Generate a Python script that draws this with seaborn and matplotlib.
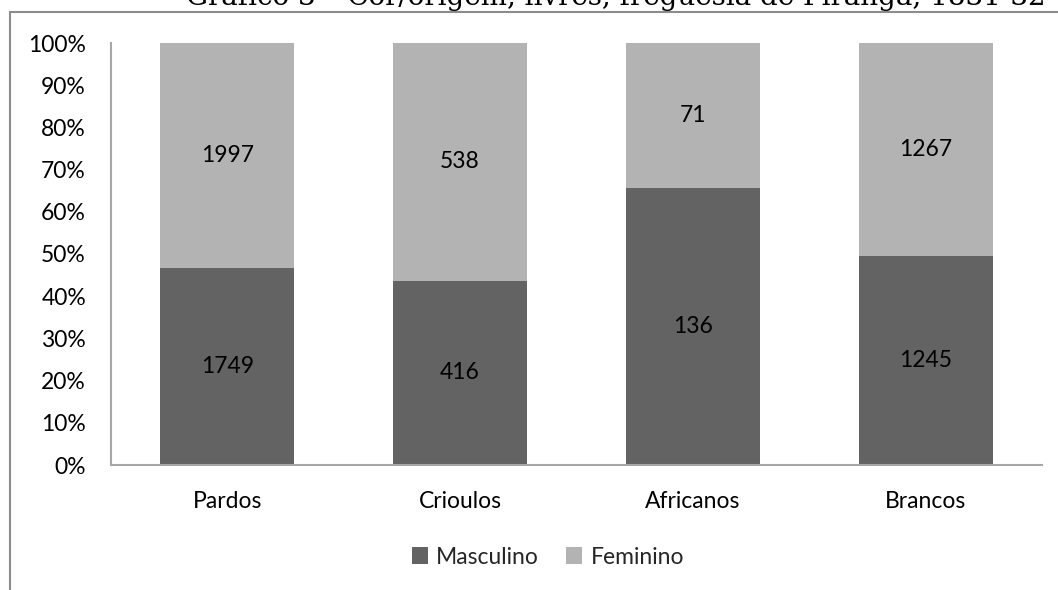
import matplotlib
matplotlib.use("Agg")
import matplotlib.pyplot as plt
from matplotlib.lines import Line2D
from matplotlib.patches import Patch
from matplotlib.ticker import PercentFormatter
import seaborn as sns
import pandas as pd

categories = ["Pardos", "Crioulos", "Africanos", "Brancos"]
masculino = [1749, 416, 136, 1245]
feminino = [1997, 538, 71, 1267]

dark = "#636363"
light = "#b3b3b3"
axis_grey = "#a6a6a6"

sns.set_theme(style="white")
plt.rcParams["font.family"] = ["Lato", "DejaVu Sans"]

totals = [m + f for m, f in zip(masculino, feminino)]
df = pd.DataFrame({
    "cat": categories,
    "masc_pct": [m / t * 100 for m, t in zip(masculino, totals)],
    "total_pct": [100.0] * len(categories),
})

fig = plt.figure(figsize=(10.58, 5.90), dpi=100)
ax = fig.add_axes([111 / 1058, 1 - 465 / 590, 931 / 1058, 422 / 590])

sns.barplot(data=df, x="cat", y="total_pct", color=light, width=0.575,
            saturation=1, linewidth=0, ax=ax)
sns.barplot(data=df, x="cat", y="masc_pct", color=dark, width=0.575,
            saturation=1, linewidth=0, ax=ax)

fs = 16.5
for i, (m, f, mp) in enumerate(zip(masculino, feminino, df["masc_pct"])):
    ax.text(i, mp / 2, f"{m}", ha="center", va="center", fontsize=fs, color="black")
    ax.text(i, mp + (100 - mp) / 2, f"{f}", ha="center", va="center", fontsize=fs, color="black")

ax.set_ylim(0, 100)
ax.set_xlim(-0.5, 3.5)
ax.set_yticks(range(0, 101, 10))
ax.yaxis.set_major_formatter(PercentFormatter(decimals=0))
ax.set_xlabel("")
ax.set_ylabel("")
for s in ("top", "right"):
    ax.spines[s].set_visible(False)
for s in ("left", "bottom"):
    ax.spines[s].set_color(axis_grey)
    ax.spines[s].set_linewidth(1.5)
ax.tick_params(axis="y", length=0, pad=18, labelsize=fs, labelcolor="black")
ax.tick_params(axis="x", length=0, pad=19, labelsize=fs, labelcolor="black")

handles = [Patch(facecolor=dark, edgecolor="none", label="Masculino"),
           Patch(facecolor=light, edgecolor="none", label="Feminino")]
fig.legend(handles=handles, loc="center", bbox_to_anchor=(548 / 1058, 1 - 557 / 590),
           ncol=2, frameon=False, fontsize=fs, handlelength=0.7, handleheight=0.7,
           handletextpad=0.35, columnspacing=1.2)

# chart frame (top and left edges)
border = "#8c8c8c"
fig.add_artist(Line2D([10 / 1058, 1], [1 - 12 / 590, 1 - 12 / 590],
                      transform=fig.transFigure, color=border, lw=1.5))
fig.add_artist(Line2D([10 / 1058, 10 / 1058], [0, 1 - 12 / 590],
                      transform=fig.transFigure, color=border, lw=1.5))

fig.text(616 / 1058, 1 - 5 / 590,
         "Gráfico 3 – Cor/origem, livres, freguesia de Piranga, 1831-32",
         ha="center", va="baseline", fontsize=20, family=["DejaVu Serif"], color="black")

fig.savefig("out.png", dpi=100)
